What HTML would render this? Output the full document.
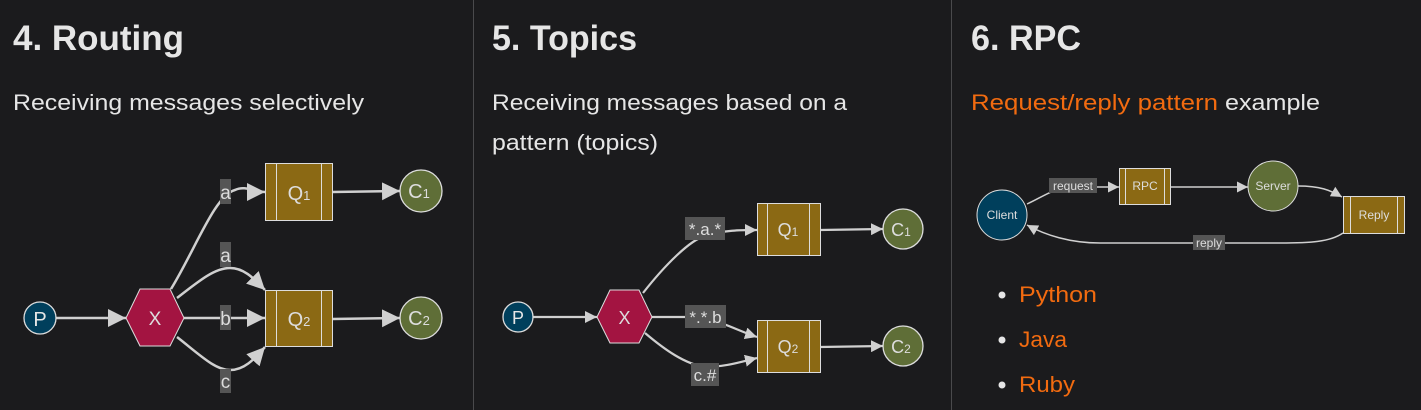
<!DOCTYPE html>
<html><head><meta charset="utf-8"><style>
html,body{margin:0;padding:0;background:#1b1b1d;}
svg{display:block;}
</style></head><body>
<svg width="1421" height="410" viewBox="0 0 1421 410" xmlns="http://www.w3.org/2000/svg" font-family="Liberation Sans, sans-serif">
<defs>
<marker id="ar" viewBox="0 0 10 10" refX="10" refY="5" markerWidth="12" markerHeight="12" markerUnits="userSpaceOnUse" orient="auto"><path d="M0,0L10,5L0,10z" fill="#d0d0d0"/></marker>
<marker id="ar2" viewBox="0 0 10 10" refX="10" refY="5" markerWidth="18" markerHeight="18" markerUnits="userSpaceOnUse" orient="auto"><path d="M0,0L10,5L0,10z" fill="#d0d0d0"/></marker>
<marker id="ar3" viewBox="0 0 10 10" refX="10" refY="5" markerWidth="11" markerHeight="11" markerUnits="userSpaceOnUse" orient="auto"><path d="M0,0L10,5L0,10z" fill="#d0d0d0"/></marker>
</defs>
<rect width="1421" height="410" fill="#1b1b1d"/>
<line x1="473.5" y1="0" x2="473.5" y2="410" stroke="#4a4a4c"/>
<line x1="951.5" y1="0" x2="951.5" y2="410" stroke="#4a4a4c"/>

<g fill="#e6e6e6">
<text x="13" y="50" font-size="35" font-weight="bold" textLength="171" lengthAdjust="spacingAndGlyphs">4. Routing</text>
<text x="492" y="50" font-size="35" font-weight="bold" textLength="145" lengthAdjust="spacingAndGlyphs">5. Topics</text>
<text x="971" y="50" font-size="35" font-weight="bold" textLength="110" lengthAdjust="spacingAndGlyphs">6. RPC</text>
<text x="13" y="110" font-size="22" textLength="351" lengthAdjust="spacingAndGlyphs">Receiving messages selectively</text>
<text x="492" y="110" font-size="22" textLength="355" lengthAdjust="spacingAndGlyphs">Receiving messages based on a</text>
<text x="492" y="150" font-size="22" textLength="166" lengthAdjust="spacingAndGlyphs">pattern (topics)</text>
<text x="1225" y="110" font-size="22" textLength="95" lengthAdjust="spacingAndGlyphs">example</text>
</g>
<text x="971" y="110" font-size="22" fill="#f26b10" textLength="247" lengthAdjust="spacingAndGlyphs">Request/reply pattern</text>

<!-- Routing diagram -->
<g fill="none" stroke="#d0d0d0" stroke-width="2.5">
<path d="M56,318 L126,318" marker-end="url(#ar2)"/>
<path d="M171,289 C195,250 215,195 235,190 C245,185 255,192 265,192" marker-end="url(#ar2)"/>
<path d="M177,298 C200,280 215,268 230,268 C245,268 255,280 265,290" marker-end="url(#ar2)"/>
<path d="M184,318 L265,318" marker-end="url(#ar2)"/>
<path d="M177,337 C200,355 215,370 230,370 C245,370 255,358 265,347" marker-end="url(#ar2)"/>
<path d="M332,192 L400,191" marker-end="url(#ar2)"/>
<path d="M332,319 L400,318" marker-end="url(#ar2)"/>
</g>
<circle cx="40" cy="318" r="16" fill="#003f5c" stroke="#ddd" stroke-width="1.3"/>
<text x="40" y="326" font-size="20" fill="#e6e6e6" text-anchor="middle">P</text>
<polygon points="126,318 140,289 170,289 184,318 170,346 140,346" fill="#a31441" stroke="#ddd" stroke-width="1"/>
<text x="155" y="325" font-size="19" fill="#ddd" text-anchor="middle">X</text>
<g fill="#8b6914" stroke="#ddd" stroke-width="1">
<rect x="265.5" y="163.5" width="67" height="57"/><rect x="265.5" y="290.5" width="67" height="56"/>
</g>
<g stroke="#ddd" stroke-width="1"><line x1="276.5" y1="164" x2="276.5" y2="220"/><line x1="321.5" y1="164" x2="321.5" y2="220"/><line x1="276.5" y1="291" x2="276.5" y2="346"/><line x1="321.5" y1="291" x2="321.5" y2="346"/></g>
<text x="299" y="200" font-size="20" fill="#ddd" text-anchor="middle">Q<tspan font-size="13">1</tspan></text>
<text x="299" y="326" font-size="20" fill="#ddd" text-anchor="middle">Q<tspan font-size="13">2</tspan></text>
<circle cx="421" cy="191" r="21" fill="#5f6e37" stroke="#ddd" stroke-width="1.3"/>
<circle cx="421" cy="318" r="21" fill="#5f6e37" stroke="#ddd" stroke-width="1.3"/>
<text x="419" y="198" font-size="20" fill="#ddd" text-anchor="middle">C<tspan font-size="13">1</tspan></text>
<text x="419" y="325" font-size="20" fill="#ddd" text-anchor="middle">C<tspan font-size="13">2</tspan></text>
<g fill="#555"><rect x="220" y="179" width="11" height="25"/><rect x="220" y="242" width="11" height="25"/><rect x="220" y="305" width="11" height="25"/><rect x="220" y="369" width="11" height="24"/></g>
<g fill="#ddd" font-size="19" text-anchor="middle"><text x="225.5" y="199">a</text><text x="225.5" y="262">a</text><text x="225.5" y="325">b</text><text x="225.5" y="388">c</text></g>

<!-- Topics diagram -->
<g fill="none" stroke="#d0d0d0" stroke-width="2.2">
<path d="M533,317 L597,317" marker-end="url(#ar)"/>
<path d="M643,293 C665,265 690,240 705,236 C725,230 740,230 757,230" marker-end="url(#ar)"/>
<path d="M652,317 L690,317 C715,317 735,330 757,337" marker-end="url(#ar)"/>
<path d="M645,333 C665,350 685,364 705,367 C725,367 740,362 757,358" marker-end="url(#ar)"/>
<path d="M820,230 L883,229" marker-end="url(#ar)"/>
<path d="M820,347 L883,346" marker-end="url(#ar)"/>
</g>
<circle cx="518" cy="317" r="15" fill="#003f5c" stroke="#ddd" stroke-width="1.3"/>
<text x="518" y="324" font-size="18" fill="#e6e6e6" text-anchor="middle">P</text>
<polygon points="597,317 610,290 639,290 652,317 639,343 610,343" fill="#a31441" stroke="#ddd" stroke-width="1"/>
<text x="624.5" y="324" font-size="18" fill="#ddd" text-anchor="middle">X</text>
<g fill="#8b6914" stroke="#ddd" stroke-width="1"><rect x="757.5" y="203.5" width="63" height="52"/><rect x="757.5" y="320.5" width="63" height="52"/></g>
<g stroke="#ddd" stroke-width="1"><line x1="767.5" y1="204" x2="767.5" y2="255"/><line x1="809.5" y1="204" x2="809.5" y2="255"/><line x1="767.5" y1="321" x2="767.5" y2="372"/><line x1="809.5" y1="321" x2="809.5" y2="372"/></g>
<text x="788" y="236" font-size="18" fill="#ddd" text-anchor="middle">Q<tspan font-size="12">1</tspan></text>
<text x="788" y="353" font-size="18" fill="#ddd" text-anchor="middle">Q<tspan font-size="12">2</tspan></text>
<circle cx="903" cy="229" r="20" fill="#5f6e37" stroke="#ddd" stroke-width="1.3"/>
<circle cx="903" cy="346" r="20" fill="#5f6e37" stroke="#ddd" stroke-width="1.3"/>
<text x="901" y="236" font-size="18" fill="#ddd" text-anchor="middle">C<tspan font-size="12">1</tspan></text>
<text x="901" y="353" font-size="18" fill="#ddd" text-anchor="middle">C<tspan font-size="12">2</tspan></text>
<g fill="#555"><rect x="685" y="217" width="40" height="23"/><rect x="685" y="305" width="41" height="23"/><rect x="691" y="363" width="28" height="23"/></g>
<g fill="#ddd" font-size="17" text-anchor="middle"><text x="705" y="235">*.a.*</text><text x="705.5" y="323">*.*.b</text><text x="705" y="381">c.#</text></g>

<!-- RPC diagram -->
<g fill="none" stroke="#d0d0d0" stroke-width="1.5">
<path d="M1027,204 C1040,198 1050,191 1065,187 L1119,187" marker-end="url(#ar3)"/>
<path d="M1170,187 L1248,187" marker-end="url(#ar3)"/>
<path d="M1298,186 C1320,186 1330,190 1342,197" marker-end="url(#ar3)"/>
<path d="M1343,233 C1330,242 1310,243 1280,243 L1100,243 C1070,243 1045,235 1027,225" marker-end="url(#ar3)"/>
</g>
<circle cx="1002" cy="215" r="25" fill="#003f5c" stroke="#ddd" stroke-width="1"/>
<text x="1002" y="219" font-size="12" fill="#ddd" text-anchor="middle">Client</text>
<rect x="1119.5" y="168.5" width="51" height="36" fill="#8b6914" stroke="#ddd" stroke-width="1"/>
<line x1="1125.5" y1="169" x2="1125.5" y2="204" stroke="#ddd"/><line x1="1164.5" y1="169" x2="1164.5" y2="204" stroke="#ddd"/>
<text x="1145" y="190" font-size="12" fill="#ddd" text-anchor="middle">RPC</text>
<circle cx="1273" cy="186" r="25" fill="#5f6e37" stroke="#ddd" stroke-width="1"/>
<text x="1273" y="190" font-size="12" fill="#ddd" text-anchor="middle">Server</text>
<rect x="1343.5" y="196.5" width="61" height="37" fill="#8b6914" stroke="#ddd" stroke-width="1"/>
<line x1="1350.5" y1="197" x2="1350.5" y2="233" stroke="#ddd"/><line x1="1397.5" y1="197" x2="1397.5" y2="233" stroke="#ddd"/>
<text x="1374" y="219" font-size="12" fill="#ddd" text-anchor="middle">Reply</text>
<rect x="1049" y="178" width="48" height="15" fill="#555"/>
<text x="1073" y="190" font-size="12" fill="#ddd" text-anchor="middle">request</text>
<rect x="1193" y="235" width="32" height="15" fill="#555"/>
<text x="1209" y="247" font-size="12" fill="#ddd" text-anchor="middle">reply</text>

<!-- bullets -->
<g fill="#e6e6e6"><circle cx="1002" cy="295" r="3.5"/><circle cx="1002" cy="340" r="3.5"/><circle cx="1002" cy="385" r="3.5"/></g>
<g fill="#f26b10" font-size="22">
<text x="1019" y="302" textLength="78" lengthAdjust="spacingAndGlyphs">Python</text>
<text x="1019" y="347" textLength="48" lengthAdjust="spacingAndGlyphs">Java</text>
<text x="1019" y="392" textLength="56" lengthAdjust="spacingAndGlyphs">Ruby</text>
</g>
</svg>
</body></html>
